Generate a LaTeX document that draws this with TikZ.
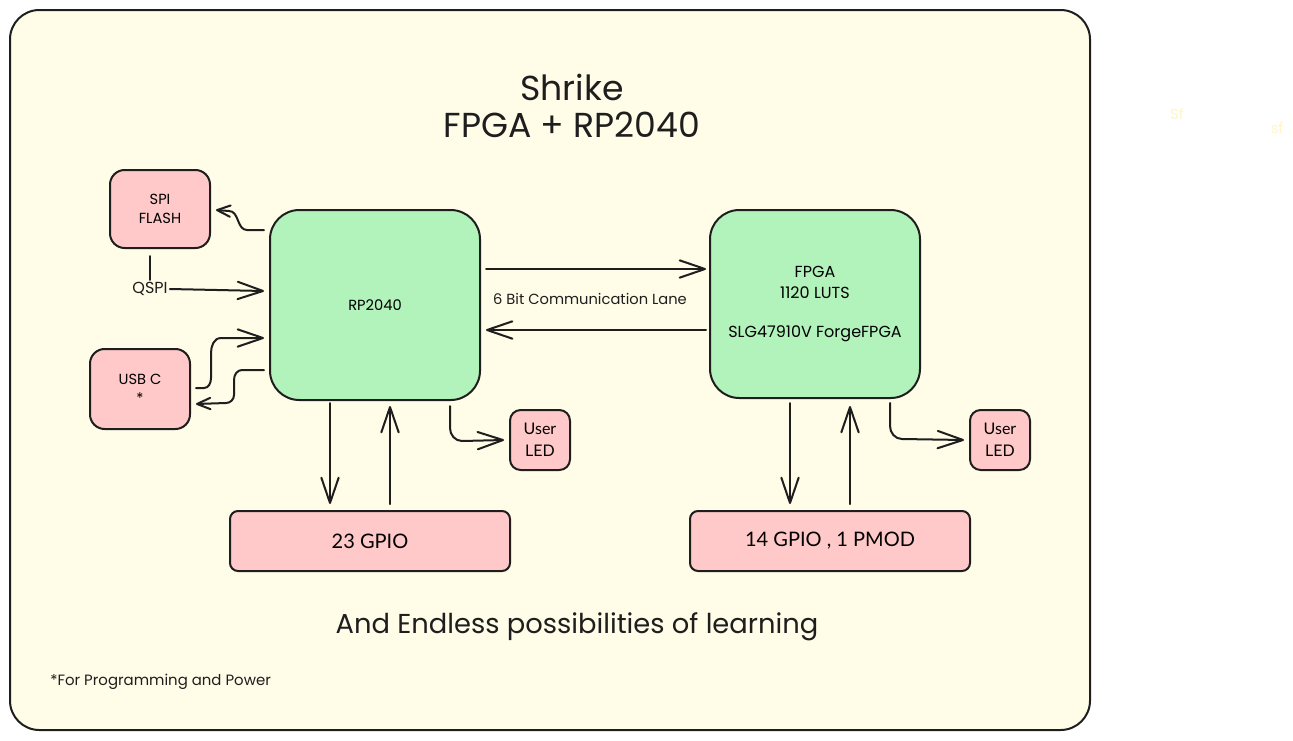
\documentclass[tikz,border=0pt]{standalone}
\usepackage{fontspec}
\setmainfont{Poppins}
\newfontfamily\nunito{Lato}
\usetikzlibrary{arrows.meta}

\definecolor{sketchink}{HTML}{1E1E1E}
\definecolor{boardfill}{HTML}{FFFCE8}
\definecolor{chipgreen}{HTML}{B2F2BB}
\definecolor{padpink}{HTML}{FFC9C9}
\definecolor{faintyellow}{HTML}{FFF5C8}

\tikzset{every picture/.style={line width=1.5pt},
	boardbox/.style={draw=sketchink, fill=boardfill, rounded corners=22pt, inner sep=0pt, minimum width=810pt, minimum height=540pt},
	chipbox/.style={draw=sketchink, fill=chipgreen, rounded corners=22pt, inner sep=0pt, minimum width=157.5pt, minimum height=142.5pt, align=center, font=\fontsize{11}{15.75}\selectfont},
	padbox/.style={draw=sketchink, fill=padpink, rounded corners=11pt, inner sep=0pt, minimum width=75pt, align=center, font=\fontsize{11}{14}\selectfont},
	ledbox/.style={draw=sketchink, fill=padpink, rounded corners=8pt, inner sep=0pt, minimum width=45pt, minimum height=45pt, align=center, font=\nunito\fontsize{12}{16.5}\selectfont},
	gpiobox/.style={draw=sketchink, fill=padpink, rounded corners=6pt, inner sep=0pt, minimum width=210pt, minimum height=45pt, font=\nunito\fontsize{15}{18}\selectfont},
	label/.style={text=sketchink, inner sep=1pt, font=\fontsize{11}{14}\selectfont},
	sketchline/.style={draw=sketchink, line cap=round},
	wire/.style={sketchline, line join=round, -{Straight Barb[length=19pt,width=13pt,round]}},
	wiresm/.style={sketchline, line join=round, -{Straight Barb[length=10pt,width=8.5pt,round]}},
}

\begin{document}
\begin{tikzpicture}[x=0.75pt,y=0.75pt,yscale=-1,xscale=1]
	\useasboundingbox (0,0) rectangle (1293,740);

	%Shape: Board
	\node (board) [boardbox] at (550,370) {};

	% Text Node
	\node (title) [label, align=center, font=\fontsize{26}{28}\selectfont] at (572,106) {Shrike\\FPGA + RP2040};

	%Shape: Rectangle
	\node (rp) [chipbox] at (375,305) {RP2040};
	%Shape: Rectangle
	\node (fpga) [chipbox, minimum height=141pt, font=\fontsize{12}{15.75}\selectfont] at (815,304) {FPGA\\1120 LUTS\\[14pt]SLG47910V ForgeFPGA};
	%Shape: Rectangle
	\node (spi) [padbox, minimum height=58.5pt] at (160,209) {SPI\\FLASH};
	%Shape: Rectangle
	\node (usb) [padbox, minimum height=60pt] at (140,389) {USB C\\*};
	%Shape: Rectangle
	\node (ledrp) [ledbox] at (540,440) {User\\LED};
	%Shape: Rectangle
	\node (ledfpga) [ledbox] at (1000,440) {User\\LED};
	%Shape: Rectangle
	\node (gpiorp) [gpiobox] at (370,541) {23 GPIO};
	%Shape: Rectangle
	\node (gpiofpga) [gpiobox] at (830,541) {14 GPIO , 1 PMOD};

	% Text Node
	\node (lane) [label] at (590,299) {6 Bit Communication Lane};
	% Text Node
	\node (qspi) [label, font=\fontsize{12}{14}\selectfont] at (150,289) {QSPI};
	% Text Node
	\node (tagline) [label, font=\fontsize{20.5}{24}\selectfont] at (577,627) {And Endless possibilities of learning};
	% Text Node
	\node (footnote) [label, anchor=west, font=\fontsize{11.2}{13}\selectfont] at (48,682) {*For Programming and Power};
	% Text Node
	\node (faintA) [label, text=faintyellow] at (1177,114) {Sf};
	% Text Node
	\node (faintB) [label, text=faintyellow] at (1277,128) {sf};

	%Straight Lines
	\draw [wire] ([shift={(5,-36)}]rp.east) -- ([shift={(-3,-35)}]fpga.west);
	\draw [wire] ([shift={(-3,26)}]fpga.west) -- ([shift={(5,25)}]rp.east);
	%Curve Lines
	\draw [wiresm] ([shift={(-5,-75)}]rp.west) -- ++(-17,0) to[out=180,in=0] ++(-18,-19) -- ([shift={(5,1)}]spi.east);
	\draw [sketchline] ([shift={(-10,7)}]spi.south) -- (qspi.north);
	\draw [wire] (qspi.east) -- ([shift={(-5,-14)}]rp.west);
	\draw [wire] ([shift={(5,-1)}]usb.east) -- ++(8,0) to[out=0,in=90] ++(7,-10) -- ++(0,-25) to[out=-90,in=180] ++(10,-15) -- ([shift={(-5,33)}]rp.west);
	\draw [wiresm] ([shift={(-5,65)}]rp.west) -- ++(-22,0) to[out=180,in=-90] ++(-8,10) -- ++(0,15) to[out=90,in=0] ++(-8,8) -- ([shift={(5,15)}]usb.east);
	\draw [wire] ([shift={(75,5)}]rp.south) -- ++(0,22) to[out=90,in=180] ++(12,13) -- ([shift={(-5,0)}]ledrp.west);
	\draw [wire] ([shift={(75,4)}]fpga.south) -- ++(0,23) to[out=90,in=180] ++(12,13) -- ([shift={(-5,0)}]ledfpga.west);
	%Straight Lines
	\draw [wire] ([shift={(-45,2)}]rp.south) -- ([shift={(-40,-6)}]gpiorp.north);
	\draw [wire] ([shift={(20,-6)}]gpiorp.north) -- ([shift={(15,5)}]rp.south);
	\draw [wire] ([shift={(-25,4)}]fpga.south) -- ([shift={(-40,-6)}]gpiofpga.north);
	\draw [wire] ([shift={(20,-6)}]gpiofpga.north) -- ([shift={(35,7)}]fpga.south);

\end{tikzpicture}
\end{document}
